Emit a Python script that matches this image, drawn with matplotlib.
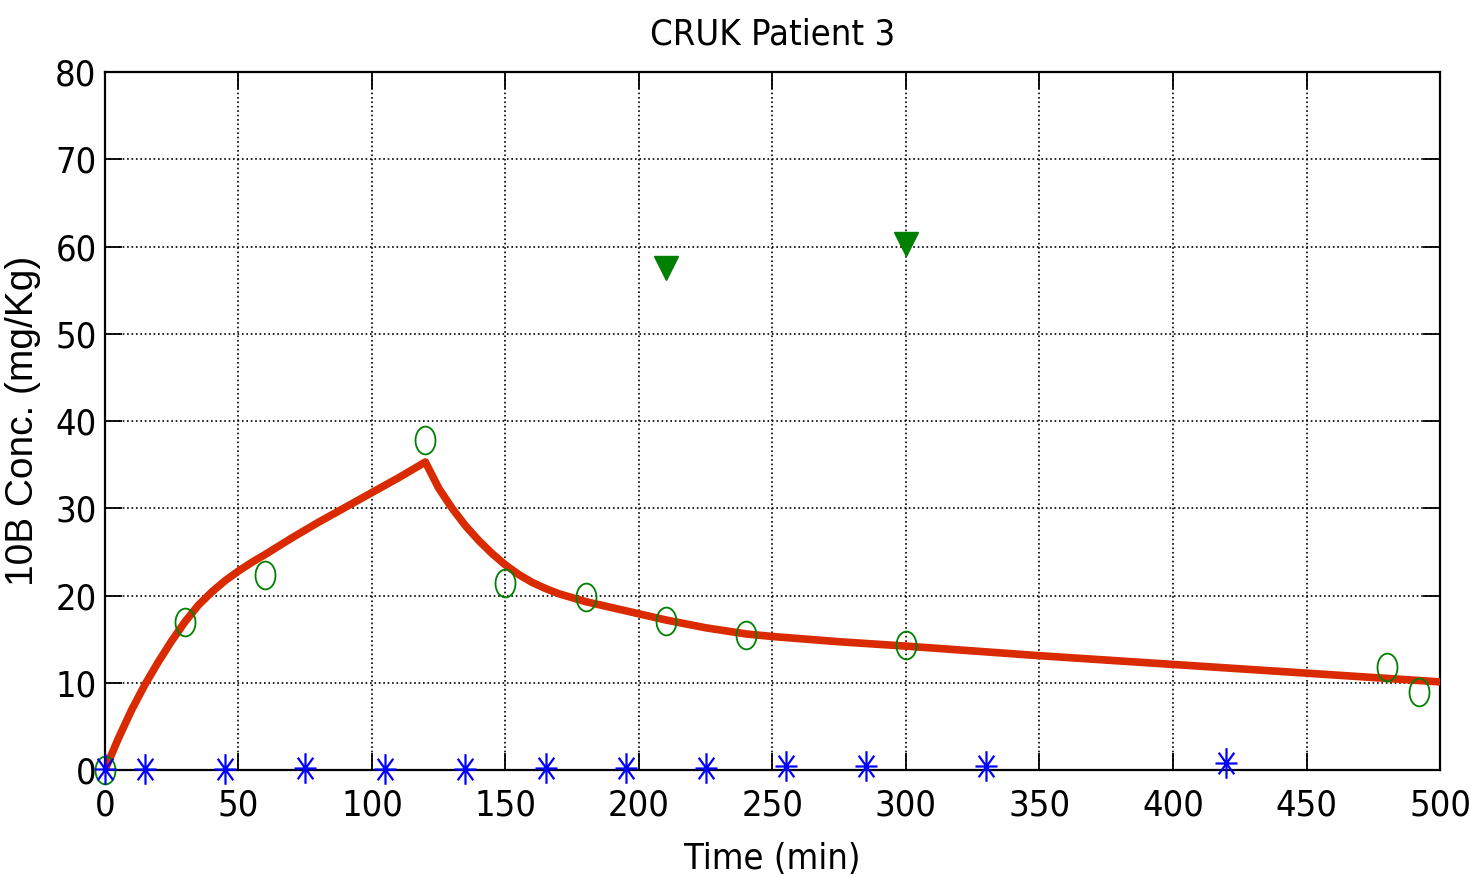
import numpy as np
import matplotlib
matplotlib.use('Agg')
import matplotlib.pyplot as plt
from matplotlib.path import Path
from matplotlib.transforms import Affine2D

# model curve
model_t = [0, 5, 10, 15, 20, 25, 30, 35, 40, 45, 50, 55, 60, 70, 80, 90, 100,
           110, 120,
           125, 130, 135, 140, 145, 150, 155, 160, 165, 170, 180, 190, 200, 210,
           225, 240, 250, 275, 300, 350, 400, 450, 500]
model_c = [0, 3.6, 6.9, 9.8, 12.4, 14.8, 17.0, 18.9, 20.4, 21.7, 22.8, 23.8,
           24.7, 26.6, 28.4, 30.1, 31.8, 33.5, 35.3,
           32.3, 30.0, 28.0, 26.3, 24.8, 23.5, 22.4, 21.5, 20.8, 20.2, 19.3,
           18.6, 17.9, 17.2, 16.3, 15.6, 15.3, 14.7, 14.2, 13.1, 12.1, 11.1, 10.1]

# measured blood samples
blood_t = [0, 30, 60, 120, 150, 180, 210, 240, 300, 480, 492]
blood_c = [0, 17.0, 22.3, 37.8, 21.4, 19.8, 17.1, 15.5, 14.3, 11.8, 8.9]

# tissue samples
tissue_t = [210, 300]
tissue_c = [57.5, 60.3]

# urine / other samples near zero
urine_t = [0, 15, 45, 75, 105, 135, 165, 195, 225, 255, 285, 330, 420]
urine_c = [0.1, 0.1, 0.1, 0.2, 0.1, 0.1, 0.2, 0.2, 0.2, 0.5, 0.5, 0.5, 0.8]

plt.rcParams['font.family'] = ['DejaVu Sans']
plt.rcParams['font.stretch'] = 'condensed'

# elliptical markers (the original picture is stretched vertically)
ellipse = Affine2D().scale(0.72, 1.0).transform_path(Path.unit_circle())
ast_verts = []
ast_codes = []
for ang in np.deg2rad([0, 45, 90, 135]):
    dx, dy = 0.72 * np.cos(ang), np.sin(ang)
    ast_verts += [(-dx, -dy), (dx, dy)]
    ast_codes += [Path.MOVETO, Path.LINETO]
asterisk = Path(ast_verts, ast_codes)

fig = plt.figure(figsize=(14.7, 8.76), dpi=100)
ax = fig.add_axes([0.0714, 0.121, 0.9082, 0.7968])

ax.plot(model_t, model_c, color='#d92a00', linewidth=5.5, zorder=3)
ax.plot(blood_t, blood_c, linestyle='none', marker=ellipse, markersize=20,
        markerfacecolor='none', markeredgecolor='#008000', markeredgewidth=1.3,
        clip_on=False, zorder=4)
ax.plot(tissue_t, tissue_c, linestyle='none', marker='v', markersize=17,
        color='#008000', zorder=4)
ax.plot(urine_t, urine_c, linestyle='none', marker=asterisk, markersize=22,
        markerfacecolor='none', markeredgecolor='#0000ff', markeredgewidth=1.6,
        clip_on=False, zorder=5)

ax.set_xlim(0, 500)
ax.set_ylim(0, 80)
ax.set_xticks(np.arange(0, 501, 50))
ax.set_yticks(np.arange(0, 81, 10))
ax.grid(True, linestyle=':', color='black', linewidth=1.2)
ax.tick_params(direction='in', length=12, width=1.3, top=True, right=True,
               labelsize=26, pad=6)
ax.tick_params(axis='x', pad=13)
for s in ax.spines.values():
    s.set_linewidth(1.6)

ax.set_title('CRUK Patient 3', fontsize=26, pad=20)
ax.set_xlabel('Time (min)', fontsize=26, labelpad=14)
ax.set_ylabel('10B Conc. (mg/Kg)', fontsize=28,
              family=['Liberation Sans', 'DejaVu Sans'], stretch='normal',
              labelpad=10)

plt.savefig('out.png', dpi=100)
